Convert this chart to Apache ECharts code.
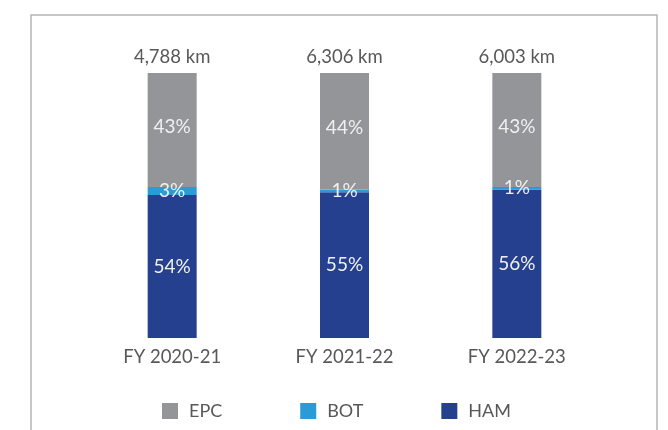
<!DOCTYPE html>
<html>
<head>
<meta charset="utf-8">
<script src="https://cdn.jsdelivr.net/npm/echarts@6/dist/echarts.min.js"></script>
<style>
  html, body { margin: 0; padding: 0; background: #fff; }
  #chart { width: 668px; height: 430px; }
</style>
</head>
<body>
<div id="chart"></div>
<script>
var categories = ['FY 2020-21', 'FY 2021-22', 'FY 2022-23'];
var totalLabels = ['4,788 km', '6,306 km', '6,003 km'];
var hamShare = [54, 55, 56];
var botShare = [3, 1, 1];
var epcShare = [43, 44, 43];

var FONT = 'Lato, "Open Sans", sans-serif';
var TEXT = '#585858';
var chart = echarts.init(document.getElementById('chart'));

var segLabel = {
  show: true,
  position: 'inside',
  color: '#f0f0f0',
  fontFamily: FONT,
  fontSize: 19,
  formatter: '{c}%'
};

chart.setOption({
  animation: false,
  grid: { left: 86, right: 65, top: 73, bottom: 92 },
  graphic: [{
    type: 'polyline',
    shape: { points: [[31, 432], [31, 15], [657, 15], [657, 432]] },
    style: { stroke: '#b5b5b5', lineWidth: 1.5, fill: null }
  }],
  legend: {
    left: 157,
    top: 397,
    itemWidth: 16,
    itemHeight: 16,
    itemGap: 78,
    icon: 'rect',
    data: ['EPC', 'BOT', 'HAM'],
    textStyle: { color: TEXT, fontFamily: FONT, fontSize: 18, padding: [0, 0, 0, 6] }
  },
  xAxis: {
    type: 'category',
    data: categories,
    axisLine: { show: false },
    axisTick: { show: false },
    axisLabel: { color: TEXT, fontFamily: FONT, fontSize: 18.5, margin: 10 }
  },
  yAxis: { type: 'value', min: 0, max: 100, show: false },
  series: [
    {
      name: 'HAM', type: 'bar', stack: 'total', barWidth: 49,
      data: hamShare, itemStyle: { color: '#25408f' }, label: segLabel
    },
    {
      name: 'BOT', type: 'bar', stack: 'total', barWidth: 49,
      data: botShare, itemStyle: { color: '#2a9bd6' }, label: segLabel
    },
    {
      name: 'EPC', type: 'bar', stack: 'total', barWidth: 49,
      data: epcShare, itemStyle: { color: '#939598' },
      label: Object.assign({}, segLabel, { offset: [0, -3] })
    },
    {
      // invisible series that carries the total length label above each bar
      name: 'total', type: 'bar', stack: 'total', barWidth: 49,
      data: [0, 0, 0], itemStyle: { color: 'transparent' },
      label: {
        show: true,
        position: 'top',
        distance: 6,
        color: TEXT,
        fontFamily: FONT,
        fontSize: 18.5,
        formatter: function (p) { return totalLabels[p.dataIndex]; }
      }
    }
  ]
});
</script>
</body>
</html>
